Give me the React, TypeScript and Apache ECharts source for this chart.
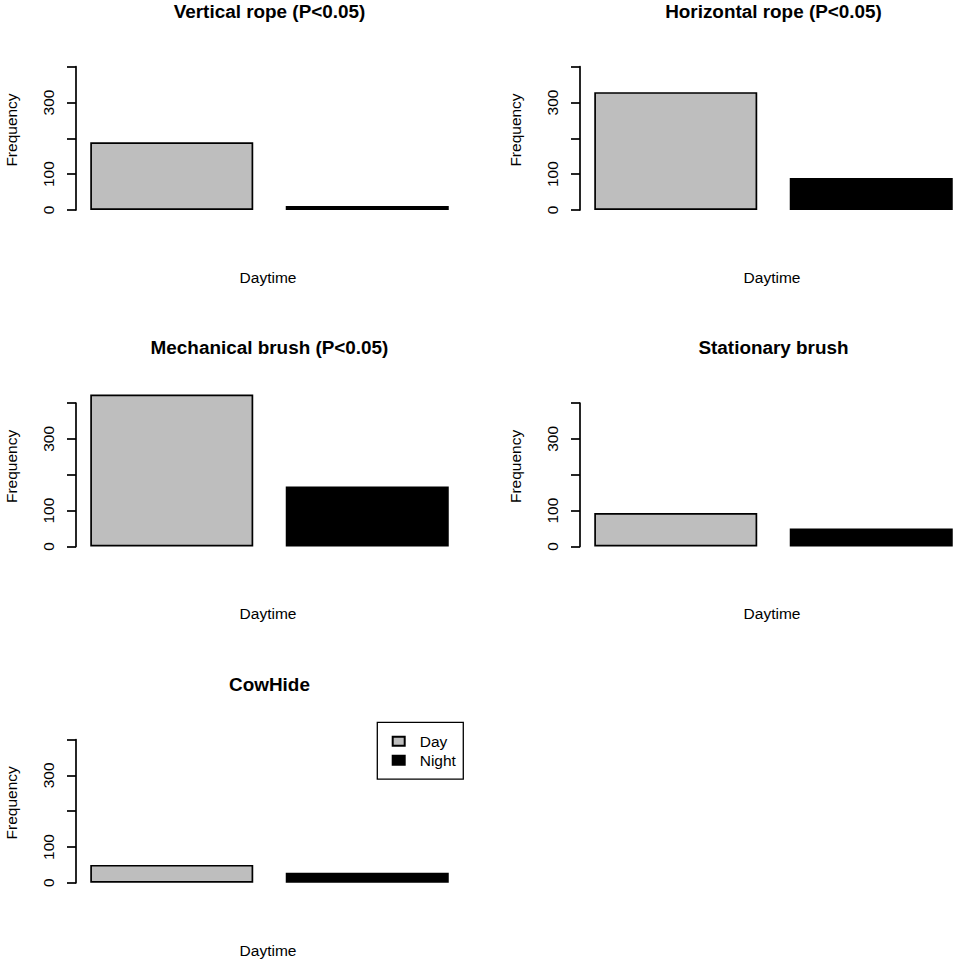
import React, { useEffect, useRef } from 'react';
import * as echarts from 'echarts';

const panelTitles = [
  'Vertical rope (P<0.05)',
  'Horizontal rope (P<0.05)',
  'Mechanical brush (P<0.05)',
  'Stationary brush',
  'CowHide',
];
const categories = ['Day', 'Night'];
const dayValues = [189, 329, 424, 93, 50];
const nightValues = [11, 89, 167, 50, 28];
const yTickLabels = ['0', '100', '300'];
const xAxisTitle = 'Daytime';
const yAxisTitle = 'Frequency';

const FONT = '"Liberation Sans", Arial, Helvetica, sans-serif';
const COL_AXIS_X = [76, 580];
const ROW_ZERO_Y = [210, 546.4, 882.8];
const PLOT_H = 143.3;
const PLOT_W = 391;
const LW = 1.7;

export default function App() {
  const ref = useRef<HTMLDivElement>(null);

  useEffect(() => {
    document.body.style.margin = '0';
    if (!ref.current) return;
    const chart = echarts.init(ref.current, undefined, { renderer: 'svg' });

    const grids: any[] = [];
    const xAxes: any[] = [];
    const yAxes: any[] = [];
    const series: any[] = [];
    const graphics: any[] = [];

    panelTitles.forEach((title, i) => {
      const col = i % 2;
      const row = Math.floor(i / 2);
      const ax = COL_AXIS_X[col];
      const zy = ROW_ZERO_Y[row];
      grids.push({ left: ax - 2, top: zy - PLOT_H, width: PLOT_W, height: PLOT_H, containLabel: false });
      xAxes.push({
        type: 'category',
        gridIndex: i,
        data: categories,
        axisLine: { show: false },
        axisTick: { show: false },
        axisLabel: { show: false },
        splitLine: { show: false },
      });
      yAxes.push({
        type: 'value',
        gridIndex: i,
        min: 0,
        max: 400,
        interval: 100,
        offset: -2,
        axisLine: { show: true, lineStyle: { color: '#000', width: LW } },
        axisTick: { show: true, length: 9, lineStyle: { color: '#000', width: LW } },
        splitLine: { show: false },
        axisLabel: {
          rotate: 90,
          margin: 20,
          fontSize: 15.5,
          color: '#000',
          fontFamily: FONT,
          formatter: (v: number) => (yTickLabels.includes(String(v)) ? String(v) : ''),
        },
      });
      series.push({
        type: 'bar',
        name: categories[0],
        xAxisIndex: i,
        yAxisIndex: i,
        data: [dayValues[i], '-'],
        barWidth: 163,
        barGap: '-100%',
        clip: false,
        itemStyle: { color: '#BEBEBE', borderColor: '#000', borderWidth: LW },
      });
      series.push({
        type: 'bar',
        name: categories[1],
        xAxisIndex: i,
        yAxisIndex: i,
        data: ['-', nightValues[i]],
        barWidth: 163,
        barGap: '-100%',
        clip: false,
        itemStyle: { color: '#000', borderColor: '#000', borderWidth: LW },
      });
      graphics.push({
        type: 'text',
        x: ax + 193.5,
        y: zy - 198.5,
        style: {
          text: title,
          fontSize: 18.9,
          fontWeight: 'bold',
          fontFamily: FONT,
          fill: '#000',
          align: 'center',
          verticalAlign: 'middle',
          textAlign: 'center',
          textVerticalAlign: 'middle',
        },
      });
      graphics.push({
        type: 'text',
        x: ax + 192,
        y: zy + 67.5,
        style: {
          text: xAxisTitle,
          fontSize: 15.5,
          fontFamily: FONT,
          fill: '#000',
          align: 'center',
          verticalAlign: 'middle',
          textAlign: 'center',
          textVerticalAlign: 'middle',
        },
      });
      graphics.push({
        type: 'text',
        x: ax - 65,
        y: zy - 80,
        rotation: Math.PI / 2,
        style: {
          text: yAxisTitle,
          fontSize: 15.5,
          fontFamily: FONT,
          fill: '#000',
          align: 'center',
          verticalAlign: 'middle',
          textAlign: 'center',
          textVerticalAlign: 'middle',
        },
      });
    });

    chart.setOption({
      animation: false,
      backgroundColor: '#fff',
      grid: grids,
      xAxis: xAxes,
      yAxis: yAxes,
      series,
      legend: {
        data: categories,
        orient: 'vertical',
        left: 377.3,
        top: 722.3,
        padding: [9.4, 7.4, 9.5, 14.4],
        itemWidth: 12,
        itemHeight: 9,
        itemGap: 0,
        icon: 'rect',
        borderColor: '#000',
        borderWidth: 1.3,
        selectedMode: false,
        textStyle: { fontSize: 15.5, fontFamily: FONT, color: '#000', lineHeight: 19, padding: [0, 0, 0, 10] },
      },
      graphic: graphics,
    });

    return () => chart.dispose();
  }, []);

  return (
    <div style={{ width: 957, height: 962, overflow: 'hidden', position: 'relative' }}>
      <div ref={ref} style={{ width: 1000, height: 962 }} />
    </div>
  );
}
